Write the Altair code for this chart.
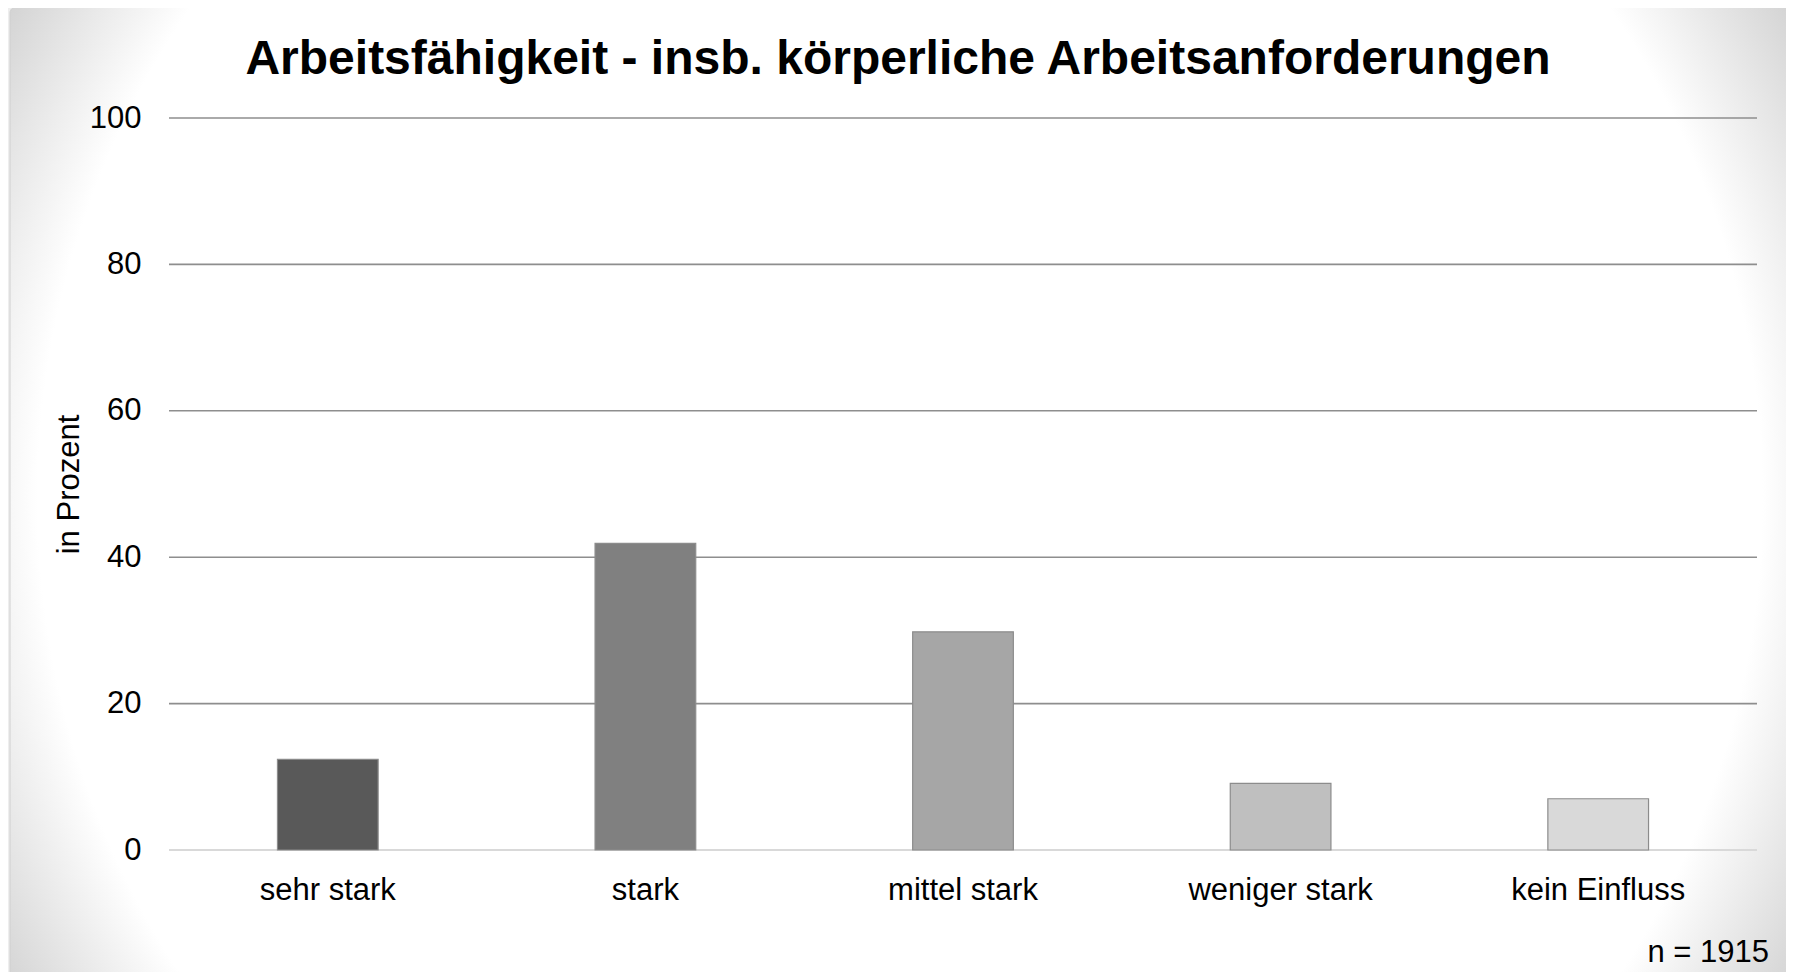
import altair as alt
import pandas as pd

categories = ["sehr stark", "stark", "mittel stark", "weniger stark", "kein Einfluss"]
values = [12.4, 41.9, 29.8, 9.1, 7.0]
bar_colors = ["#595959", "#808080", "#a6a6a6", "#bfbfbf", "#d9d9d9"]
y_ticks = [0, 20, 40, 60, 80, 100]
title_text = "Arbeitsfähigkeit - insb. körperliche Arbeitsanforderungen"
y_title = "in Prozent"
note_text = "n = 1915"

W, H = 1588, 732
FONT = "Liberation Sans"

df = pd.DataFrame({"cat": categories, "val": values})
grid_df = pd.DataFrame({"t": y_ticks})
one = alt.Data(values=[{"k": 1}])

shadow = alt.Chart(one).mark_rect(fill="#eeeeee", cornerRadius=10).encode(
    x=alt.value(-166), x2=alt.value(1640), y=alt.value(-117), y2=alt.value(900)
)

card = alt.Chart(one).mark_rect(
    fill=alt.Gradient(
        gradient="radial", x1=0.5, y1=0.5, r1=0, x2=0.5, y2=0.5, r2=0.57,
        stops=[
            alt.GradientStop(color="#ffffff", offset=0),
            alt.GradientStop(color="#ffffff", offset=0.85),
            alt.GradientStop(color="#d4d4d4", offset=1),
        ],
    ),
    stroke="#d0d0d0", strokeWidth=1, cornerRadius=6,
).encode(x=alt.value(-159), x2=alt.value(1621), y=alt.value(-111), y2=alt.value(872))

yscale = alt.Scale(domain=[0, 100], nice=False)
yaxis = alt.Axis(
    title=y_title, values=y_ticks, labelFontSize=31, labelFont=FONT, labelColor="#000000",
    labelPadding=28, ticks=False, domain=False, grid=False, zindex=2,
    titleFont=FONT, titleFontSize=31, titleFontWeight="normal", titleColor="#000000",
    titleX=-91, titleY=366, titleBaseline="alphabetic", titleAngle=270,
)

grid = alt.Chart(grid_df).mark_rule().encode(
    y=alt.Y("t:Q", scale=yscale, axis=yaxis, title=y_title),
    color=alt.condition("datum.t === 0", alt.value("#d9d9d9"), alt.value("#8e8e8e")),
    strokeWidth=alt.condition("datum.t === 0", alt.value(2), alt.value(1.6)),
)

bars = alt.Chart(df).mark_bar(stroke="#8c8c8c", strokeWidth=1.2).encode(
    x=alt.X(
        "cat:N", sort=categories,
        scale=alt.Scale(paddingInner=0.683, paddingOuter=0.3415),
        axis=alt.Axis(
            title=None, labelAngle=0, labelFontSize=31, labelFont=FONT, labelColor="#000000",
            labelPadding=25, labelLimit=400, ticks=False, domain=False, grid=False, zindex=2,
        ),
    ),
    y=alt.Y("val:Q", scale=yscale, axis=yaxis, title=y_title),
    color=alt.Color("cat:N", scale=alt.Scale(domain=categories, range=bar_colors), legend=None),
)

title = alt.Chart(one).mark_text(
    text=title_text, font=FONT, fontSize=48, fontWeight="bold", align="center",
    baseline="alphabetic", color="#000000",
).encode(x=alt.value(729), y=alt.value(-44))

note = alt.Chart(one).mark_text(
    text=note_text, font=FONT, fontSize=31, align="right", baseline="alphabetic", color="#000000",
).encode(x=alt.value(1600), y=alt.value(844))

chart = alt.layer(shadow, card, grid, bars, title, note).properties(
    width=W, height=H,
    autosize=alt.AutoSizeParams(type="none"),
    padding={"left": 161, "top": 110, "right": 29, "bottom": 122},
    background="#ffffff",
).configure_view(stroke=None)

chart.save("out.html", embed_options={"renderer": "svg", "actions": False})
